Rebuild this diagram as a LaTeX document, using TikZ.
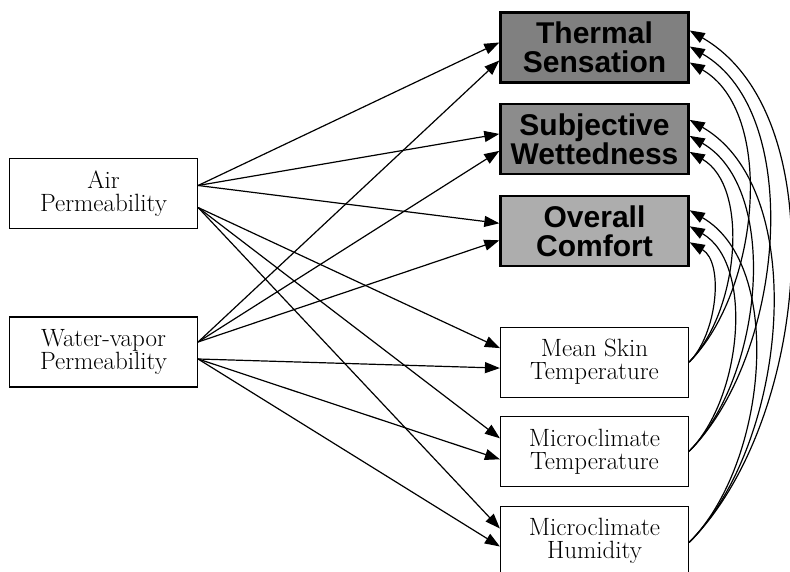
\documentclass[tikz,border=0pt]{standalone}
\usepackage{fontspec}
\newfontfamily\headfont{Liberation Sans}
\usetikzlibrary{arrows.meta,positioning}

\begin{document}
\begin{tikzpicture}[x=1pt,y=-1pt,node distance=19pt and 8mm,>={Triangle[length=15pt,width=11pt]},
  every node/.style={font=\fontsize{25}{23}\selectfont},
  box/.style={draw,line width=1.2pt,align=center,minimum width=188pt,minimum height=70pt,inner sep=2pt},
  hot/.style={box,line width=2.4pt,font=\headfont\bfseries\fontsize{30}{29}\selectfont},
  link/.style={->,line width=1.2pt},
  arc/.style={link,out=45,in=-30,looseness=0.85}]
\useasboundingbox (0,0) rectangle (790,572);
\node[box] (air) at (103.5,193.5) {Air\\Permeability};
\node[box] (wvp) at (103.5,352) {Water-vapor\\Permeability};
\node[hot,fill=black!50] (ts) at (594.5,47.5) {Thermal\\Sensation};
\node[hot,fill=black!45,below=of ts] (sw) {Subjective\\Wettedness};
\node[hot,fill=black!32,below=20pt of sw] (oc) {Overall\\Comfort};
\node[box,below=59pt of oc] (ms) {Mean Skin\\Temperature};
\node[box,below=18pt of ms] (mt) {Microclimate\\Temperature};
\node[box,minimum height=68pt,below=of mt] (mh) {Microclimate\\Humidity};
% permeability -> responses
\draw[link] ([yshift=8pt]air.east) -- ([yshift=5pt]ts.west);
\draw[link] ([yshift=8pt]air.east) -- ([yshift=5pt]sw.west);
\draw[link] ([yshift=8pt]air.east) -- ([yshift=8pt]oc.west);
\draw[link] ([yshift=-14pt]air.east) -- ([yshift=14pt]ms.west);
\draw[link] ([yshift=-14pt]air.east) -- ([yshift=13pt]mt.west);
\draw[link] ([yshift=-14pt]air.east) -- ([yshift=12pt]mh.west);
\draw[link] ([yshift=10pt]wvp.east) -- ([yshift=-13pt]ts.west);
\draw[link] ([yshift=10pt]wvp.east) -- ([yshift=-12pt]sw.west);
\draw[link] ([yshift=10pt]wvp.east) -- ([yshift=-9pt]oc.west);
\draw[link] ([yshift=-7pt]wvp.east) -- ([yshift=-6pt]ms.west);
\draw[link] ([yshift=-7pt]wvp.east) -- ([yshift=-8pt]mt.west);
\draw[link] ([yshift=-7pt]wvp.east) -- ([yshift=-6pt]mh.west);
% physiological -> sensations
\draw[arc] ([yshift=-2pt]mh.east) to ([yshift=17pt]ts.east);
\draw[arc] (mt.east) to ([yshift=1pt]ts.east);
\draw[arc] (ms.east) to ([yshift=-15pt]ts.east);
\draw[arc] ([yshift=-2pt]mh.east) to ([yshift=19pt]sw.east);
\draw[arc] (mt.east) to ([yshift=3pt]sw.east);
\draw[arc] (ms.east) to ([yshift=-13pt]sw.east);
\draw[arc] ([yshift=-2pt]mh.east) to ([yshift=21pt]oc.east);
\draw[arc] (mt.east) to ([yshift=5pt]oc.east);
\draw[arc] (ms.east) to ([yshift=-11pt]oc.east);
\end{tikzpicture}
\end{document}
